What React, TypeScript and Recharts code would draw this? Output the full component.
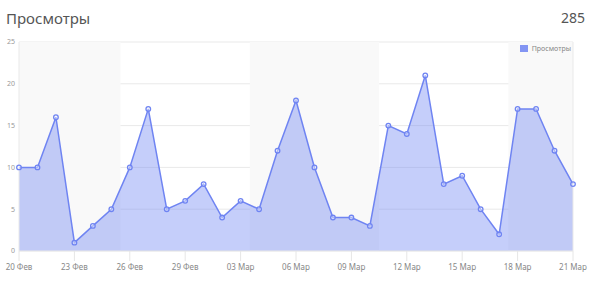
import {
  AreaChart, Area, XAxis, YAxis, CartesianGrid, ReferenceArea, ReferenceLine,
} from 'recharts';

const DATES = [
  '20 Фев', '21 Фев', '22 Фев', '23 Фев', '24 Фев', '25 Фев', '26 Фев', '27 Фев', '28 Фев', '29 Фев',
  '01 Мар', '02 Мар', '03 Мар', '04 Мар', '05 Мар', '06 Мар', '07 Мар', '08 Мар', '09 Мар', '10 Мар',
  '11 Мар', '12 Мар', '13 Мар', '14 Мар', '15 Мар', '16 Мар', '17 Мар', '18 Мар', '19 Мар', '20 Мар',
  '21 Мар',
];

const VIEWS = [
  10, 10, 16, 1, 3, 5, 10, 17, 5, 6,
  8, 4, 6, 5, 12, 18, 10, 4, 4, 3,
  15, 14, 21, 8, 9, 5, 2, 17, 17, 12,
  8,
];

const X_TICKS = [0, 3, 6, 9, 12, 15, 18, 21, 24, 27, 30];
const Y_TICKS = [0, 5, 10, 15, 20, 25];

// shaded weeks, as day-index ranges
const BAND_FROM = [0, 12.5, 26.5];
const BAND_TO = [5.5, 19.5, 30];

const TITLE = 'Просмотры';
const TOTAL = '285';

const BLUE = '#6f84f2';
const FONT = '"Noto Sans", "Open Sans", sans-serif';

const data = VIEWS.map((v, i) => ({ i, views: v }));

export default function App() {
  return (
    <div style={{ position: 'absolute', top: 0, left: 0, width: 592, height: 286, background: '#fff' }}>
      <style>{'body{margin:0}'}</style>
      <div style={{ position: 'absolute', left: 6, top: 8, fontFamily: FONT, fontSize: 15, color: '#555' }}>
        {TITLE}
      </div>
      <div style={{ position: 'absolute', right: 7, top: 8, fontFamily: FONT, fontSize: 14, color: '#555' }}>
        {TOTAL}
      </div>
      <AreaChart width={592} height={286} data={data} margin={{ top: 42, right: 19, bottom: 0, left: 0 }}>
        {BAND_FROM.map((x1, k) => (
          <ReferenceArea key={k} x1={x1} x2={BAND_TO[k]} y1={0} y2={25} fill="#f9f9f9" fillOpacity={1} stroke="none" />
        ))}
        <CartesianGrid vertical={false} stroke="#e9e9e9" />
        <ReferenceLine x={30} stroke="#e9e9e9" />
        <XAxis
          dataKey="i"
          type="number"
          domain={[0, 30]}
          ticks={X_TICKS}
          tickFormatter={(v) => DATES[v]}
          height={35}
          tickSize={10}
          tickMargin={3}
          tick={{ fontSize: 8, fill: '#888', fontFamily: FONT }}
          stroke="#e6e6e6"
          axisLine={{ stroke: '#e9e9e9' }}
          interval={0}
        />
        <YAxis
          domain={[0, 25]}
          ticks={Y_TICKS}
          width={19}
          tickLine={false}
          tickSize={0}
          tickMargin={4}
          tick={{ fontSize: 7, fill: '#999', fontFamily: FONT }}
          axisLine={{ stroke: '#e9e9e9' }}
        />
        <Area
          type="linear"
          dataKey="views"
          name={TITLE}
          stroke={BLUE}
          strokeWidth={1.5}
          fill={BLUE}
          fillOpacity={0.4}
          dot={{ r: 2.3, fill: '#fff', stroke: BLUE, strokeWidth: 1.3 }}
          activeDot={false}
          isAnimationActive={false}
        />
      </AreaChart>
      <div style={{
        position: 'absolute', top: 44, right: 21, display: 'flex', alignItems: 'center',
        fontFamily: FONT, fontSize: 7, color: '#888',
      }}>
        <span style={{ width: 8, height: 7, background: BLUE, opacity: 0.85, marginRight: 4, display: 'inline-block' }} />
        {TITLE}
      </div>
    </div>
  );
}
